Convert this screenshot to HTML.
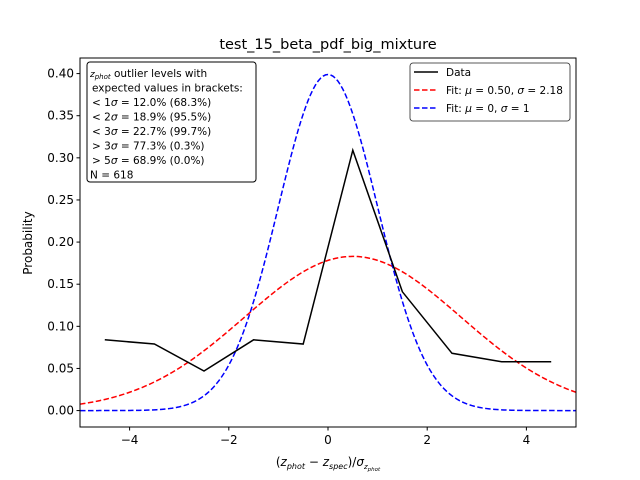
<!DOCTYPE html>
<html><head><meta charset="utf-8"><style>body{margin:0;background:#fff}svg{display:block;font-family:"DejaVu Sans","Liberation Sans",sans-serif}</style></head>
<body>
<svg id="c" width="640" height="480" xmlns="http://www.w3.org/2000/svg">
<text x="328" y="49" font-size="14.5" text-anchor="middle">test_15_beta_pdf_big_mixture</text>
<g id="plot"></g>
<rect x="80" y="58" width="496" height="369" fill="none" stroke="#000" stroke-width="1"/>
<text x="328" y="466" font-size="12" text-anchor="middle">(<tspan font-style="italic">z</tspan><tspan font-size="8" dy="3" font-style="italic">phot</tspan><tspan dy="-3"> − </tspan><tspan font-style="italic">z</tspan><tspan font-size="8" dy="3" font-style="italic">spec</tspan><tspan dy="-3">)/</tspan><tspan font-style="italic">σ</tspan><tspan font-size="7" dy="3" font-style="italic">z</tspan><tspan font-size="5.5" dy="2" font-style="italic">phot</tspan></text>
<text x="32" y="243" font-size="12" text-anchor="middle" transform="rotate(-90 32 243)">Probability</text>
<g>
<rect x="87" y="62" width="169" height="120" rx="3" fill="#fff" stroke="#000" stroke-width="1"/>
<g font-size="10.5">
<text x="90" y="77"><tspan font-style="italic" font-size="9">z</tspan><tspan font-style="italic" font-size="7" dy="2">phot</tspan><tspan dy="-2"> outlier levels with</tspan></text>
<text x="92" y="91.5">expected values in brackets:</text>
<text x="92" y="106">&lt; 1<tspan font-style="italic">σ</tspan> = 12.0% (68.3%)</text>
<text x="92" y="120.5">&lt; 2<tspan font-style="italic">σ</tspan> = 18.9% (95.5%)</text>
<text x="92" y="135">&lt; 3<tspan font-style="italic">σ</tspan> = 22.7% (99.7%)</text>
<text x="92" y="149.5">&gt; 3<tspan font-style="italic">σ</tspan> = 77.3% (0.3%)</text>
<text x="92" y="164">&gt; 5<tspan font-style="italic">σ</tspan> = 68.9% (0.0%)</text>
<text x="90" y="178.5">N = 618</text>
</g></g>
<g>
<rect x="410" y="63" width="160" height="58" rx="3" fill="#fff" stroke="#ccc" stroke-width="1"/>
<rect x="410" y="63" width="160" height="58" rx="3" fill="none" stroke="#333" stroke-width="0.8"/>
<g font-size="10.5">
<line x1="414" y1="72" x2="438" y2="72" stroke="#000" stroke-width="1.5"/><text x="446" y="76">Data</text>
<line x1="414" y1="90" x2="438" y2="90" stroke="red" stroke-width="1.5" stroke-dasharray="5.5,2.5"/><text x="446" y="94">Fit: <tspan font-style="italic">μ</tspan> = 0.50, <tspan font-style="italic">σ</tspan> = 2.18</text>
<line x1="414" y1="108" x2="438" y2="108" stroke="blue" stroke-width="1.5" stroke-dasharray="5.5,2.5"/><text x="446" y="112">Fit: <tspan font-style="italic">μ</tspan> = 0, <tspan font-style="italic">σ</tspan> = 1</text>
</g></g>
</svg>
<script>
const dataX=[-4.5,-3.5,-2.5,-1.5,-0.5,0.5,1.5,2.5,3.5,4.5];
const dataY=[0.084,0.079,0.047,0.084,0.079,0.309,0.141,0.068,0.058,0.058];
const fitMu=[0.5,0];
const fitSigma=[2.18,1];
const fitColors=['red','blue'];
const xTicks=[-4,-2,0,2,4];
const yTicks=[0,0.05,0.1,0.15,0.2,0.25,0.3,0.35,0.4];
const NS='http://www.w3.org/2000/svg';
const X0=80,X1=576,Y0=427,Y1=58,xmin=-5,xmax=5,ymin=-0.0195,ymax=0.4185;
const sx=v=>X0+(v-xmin)/(xmax-xmin)*(X1-X0);
const sy=v=>Y0-(v-ymin)/(ymax-ymin)*(Y0-Y1);
const g=document.getElementById('plot');
function mk(t,a){const e=document.createElementNS(NS,t);for(const k in a)e.setAttribute(k,a[k]);g.appendChild(e);return e;}
xTicks.forEach(t=>{
 const l=mk('line',{x1:sx(t),x2:sx(t),y1:Y0,y2:Y0+3.5,stroke:'#000'});
 
 
 const tx=mk('text',{x:sx(t),y:Y0+17,'font-size':12,'text-anchor':'middle'});
 tx.textContent=(t<0?'−'+(-t):t);
 
 
});
yTicks.forEach(t=>{
 const l=mk('line',{x1:X0-3.5,x2:X0,y1:sy(t),y2:sy(t),stroke:'#000'});
 
 
 const tx=mk('text',{x:X0-6,y:sy(t)+4,'font-size':12,'text-anchor':'end'});
 tx.textContent=t.toFixed(2);
 
 
});
fitMu.forEach((mu,i)=>{
 const s=fitSigma[i];let pts=[];
 for(let k=0;k<=200;k++){const x=xmin+k*(xmax-xmin)/200;const y=Math.exp(-0.5*((x-mu)/s)**2)/(s*Math.sqrt(2*Math.PI));pts.push(sx(x).toFixed(2)+','+sy(y).toFixed(2));}
 const p=mk('polyline',{points:pts.join(' '),fill:'none',stroke:fitColors[i],'stroke-width':1.5,'stroke-dasharray':'5.5,2.5'});
 
 
});
const dp=mk('polyline',{points:dataX.map((x,i)=>sx(x)+','+sy(dataY[i])).join(' '),fill:'none',stroke:'#000','stroke-width':1.5});


</script>
</body></html>
